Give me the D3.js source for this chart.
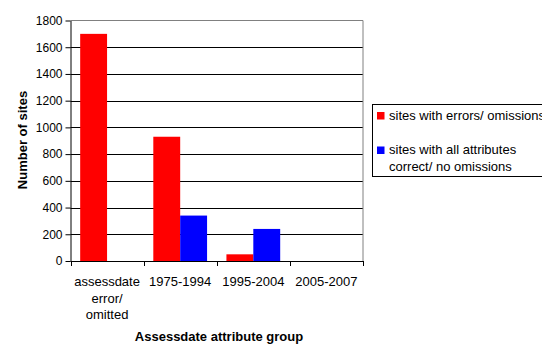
<!DOCTYPE html>
<html>
<head>
<meta charset="utf-8">
<script src="https://cdn.jsdelivr.net/npm/d3@7"></script>
<style>
  html, body { margin: 0; padding: 0; background: #fff; }
  svg { display: block; font-family: "Liberation Sans", Arial, sans-serif; }
</style>
</head>
<body>
<svg id="chart" width="542" height="345"></svg>
<script>
// Category labels (multi-line where wrapped)
const categories = ["assessdate error/ omitted", "1975-1994", "1995-2004", "2005-2007"];
const categoryLines = [["assessdate", "error/", "omitted"], ["1975-1994"], ["1995-2004"], ["2005-2007"]];
const seriesNames = ["sites with errors/ omissions", "sites with all attributes correct/ no omissions"];
const legendLines = [["sites with errors/ omissions"], ["sites with all attributes", "correct/ no omissions"]];
const errorsValues = [1700, 930, 50, 0];
const correctValues = [0, 340, 240, 0];
const yTicks = [0, 200, 400, 600, 800, 1000, 1200, 1400, 1600, 1800];
const colors = ["#ff0000", "#0000ff"];

const svg = d3.select("#chart");
const plot = { left: 70.5, right: 363, top: 20.5, bottom: 261 };

const x = d3.scaleBand().domain(categories).range([plot.left, plot.right]).paddingInner(0).paddingOuter(0);
const xSub = d3.scaleBand().domain([0, 1]).range([0, x.bandwidth()]).paddingOuter(0.36).paddingInner(0);
const y = d3.scaleLinear().domain([0, 1800]).range([plot.bottom, plot.top]);

// Gridlines
svg.append("g").selectAll("line").data(yTicks.filter(t => t > 0 && t < 1800)).join("line")
  .attr("x1", plot.left).attr("x2", plot.right)
  .attr("y1", d => Math.round(y(d)) + 0.5).attr("y2", d => Math.round(y(d)) + 0.5)
  .attr("stroke", "#000").attr("stroke-width", 1);

// Plot-area border (top and right)
svg.append("path")
  .attr("d", `M${plot.left},${plot.top}H${plot.right}V${plot.bottom}`)
  .attr("fill", "none").attr("stroke", "#808080").attr("stroke-width", 1);

// Bars
const rows = categories.map((c, i) => ({ c, vals: [errorsValues[i], correctValues[i]] }));
const groups = svg.append("g").selectAll("g").data(rows).join("g")
  .attr("transform", d => `translate(${x(d.c)},0)`);
groups.selectAll("rect").data(d => d.vals.map((v, k) => ({ v, k })).filter(e => e.v > 0)).join("rect")
  .attr("x", d => xSub(d.k))
  .attr("width", xSub.bandwidth())
  .attr("y", d => y(d.v))
  .attr("height", d => y(0) - y(d.v))
  .attr("fill", d => colors[d.k]);

// Y axis
const yAxis = svg.append("g").attr("transform", `translate(${plot.left},0)`)
  .call(d3.axisLeft(y).tickValues(yTicks).tickFormat(d3.format("d")).tickSize(5).tickSizeOuter(0).tickPadding(3));
yAxis.select(".domain").attr("stroke", "#000");
yAxis.selectAll(".tick line").attr("stroke", "#000");
yAxis.selectAll(".tick text").attr("font-size", 12).attr("font-family", "Liberation Sans, Arial, sans-serif").attr("fill", "#000");

// X axis line and tick marks at category boundaries
svg.append("line").attr("x1", plot.left).attr("x2", plot.right)
  .attr("y1", plot.bottom + 0.5).attr("y2", plot.bottom + 0.5).attr("stroke", "#000");
const boundaries = categories.map(c => x(c)).concat([plot.right]);
svg.append("g").selectAll("line").data(boundaries).join("line")
  .attr("x1", d => Math.round(d) + 0.5).attr("x2", d => Math.round(d) + 0.5)
  .attr("y1", plot.bottom).attr("y2", plot.bottom + 5).attr("stroke", "#000");

// X category labels
const xl = svg.append("g").selectAll("text").data(categories).join("text")
  .attr("text-anchor", "middle").attr("font-size", 13).attr("fill", "#000")
  .attr("x", d => x(d) + x.bandwidth() / 2).attr("y", 286);
xl.each(function(d, i) {
  d3.select(this).selectAll("tspan").data(categoryLines[i]).join("tspan")
    .attr("x", x(d) + x.bandwidth() / 2)
    .attr("dy", (t, j) => j === 0 ? 0 : 16.5)
    .text(t => t);
});

// Axis titles
svg.append("text").attr("x", 219).attr("y", 341).attr("text-anchor", "middle")
  .attr("font-size", 13).attr("font-weight", "bold").text("Assessdate attribute group");
svg.append("text").attr("transform", "translate(26.5,140) rotate(-90)").attr("text-anchor", "middle")
  .attr("font-size", 13).attr("font-weight", "bold").text("Number of sites");

// Legend
const legend = svg.append("g");
legend.append("rect").attr("x", 372.5).attr("y", 104.5).attr("width", 200).attr("height", 72)
  .attr("fill", "#fff").attr("stroke", "#000").attr("stroke-width", 1);
const legendY = [119.5, 154];
seriesNames.forEach((name, k) => {
  legend.append("rect").attr("x", 377).attr("y", legendY[k] - 7.5).attr("width", 7.5).attr("height", 7.5)
    .attr("fill", colors[k]);
  const t = legend.append("text").attr("x", 389).attr("y", legendY[k]).attr("font-size", 13).attr("fill", "#000");
  t.selectAll("tspan").data(legendLines[k]).join("tspan")
    .attr("x", 389).attr("dy", (s, j) => j === 0 ? 0 : 17).text(s => s);
});
</script>
</body>
</html>
